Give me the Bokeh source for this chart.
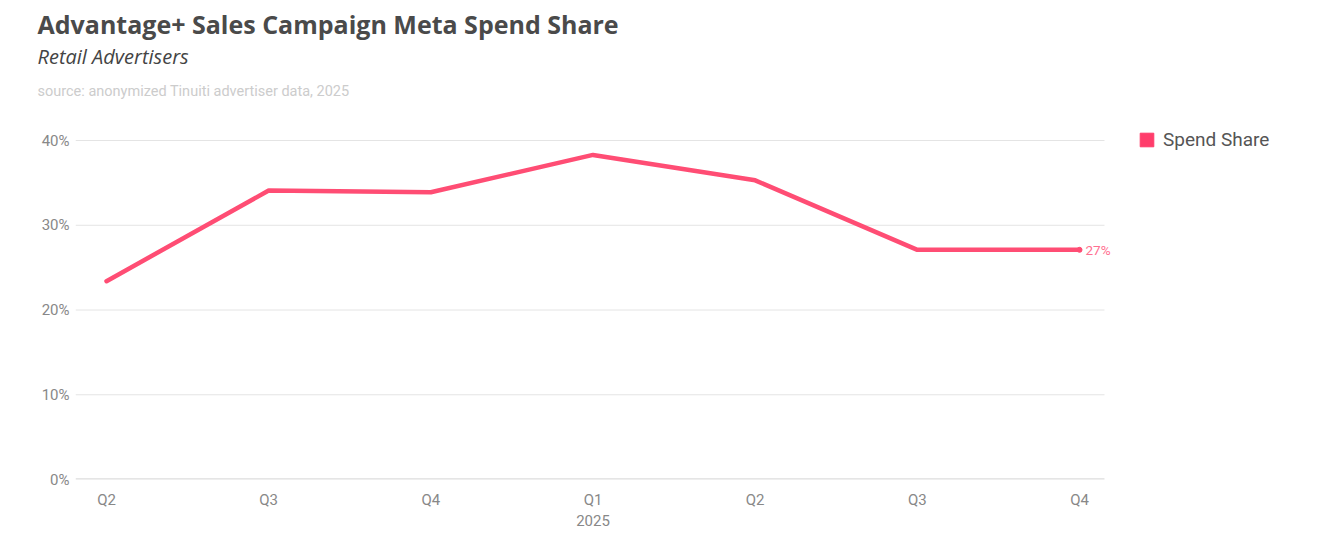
from bokeh.plotting import figure
from bokeh.models import Legend, LegendItem, FixedTicker, NumeralTickFormatter, Range1d, Title
from bokeh.core.properties import value
from bokeh.embed import file_html
from bokeh.resources import INLINE

quarters = ["Q2", "Q3", "Q4", "Q1", "Q2", "Q3", "Q4"]
year_label = "2025"
year_start_index = 3
spend_share = [23.4, 34.1, 33.9, 38.3, 35.3, 27.1, 27.1]
series_name = "Spend Share"
end_label = "27%"
y_ticks = [0, 10, 20, 30, 40]

LINE = "#ff4d74"
xs = list(range(len(quarters)))
ys = [v / 100 for v in spend_share]
yt = [t / 100 for t in y_ticks]
nan = float("nan")

X0, X1 = -0.1912, 6.154      # extent of plotting band (grid lines)
p = figure(width=1330, height=540, output_backend="svg", toolbar_location=None,
           x_range=Range1d(X0, 7.486), y_range=Range1d(0, 0.4354),
           min_border_left=75, min_border_right=10, min_border_top=110, min_border_bottom=61)
p.outline_line_color = None
p.background_fill_color = "white"
p.border_fill_color = "white"

# grid lines and baseline limited to the plotting band
p.segment(x0=[X0] * (len(yt) - 1), x1=[X1] * (len(yt) - 1), y0=yt[1:], y1=yt[1:],
          line_color="#e4e4e4", line_width=1)
p.segment(x0=[X0], x1=[X1], y0=[yt[0]], y1=[yt[0]], line_color="#dddddd", line_width=2.5)

p.line(xs, ys, line_color=LINE, line_width=4.5, line_cap="round", line_join="round")
p.scatter([xs[-1]], [ys[-1]], size=5, color=LINE)
p.text([xs[-1]], [ys[-1]], text=[end_label], x_offset=6, text_baseline="middle",
       text_font=value("Roboto"), text_font_size="13.5px", text_color="#ff6f90")

# legend swatch renderer (not drawn in the plot)
sw = p.quad(left=[nan], right=[nan], top=[nan], bottom=[nan], fill_color="#ff3d6b", line_color="#ff3d6b")
legend = Legend(items=[LegendItem(label=series_name, renderers=[sw])],
                location=(1063, 328), orientation="vertical",
                glyph_width=17, glyph_height=17, label_text_font="Roboto",
                label_text_font_size="19px", label_text_color="#555555",
                border_line_color=None, background_fill_alpha=0, padding=0, margin=0,
                label_standoff=8)
p.add_layout(legend, "center")

# axes
p.xaxis.ticker = FixedTicker(ticks=xs)
overrides = {i: q for i, q in enumerate(quarters)}
overrides[year_start_index] = quarters[year_start_index] + "\n" + year_label
p.xaxis.major_label_overrides = overrides
p.xaxis.major_label_text_font = "Roboto"
p.xaxis.major_label_text_font_size = "15px"
p.xaxis.major_label_text_color = "#888888"
p.xaxis.major_label_standoff = 11
p.xaxis.axis_line_color = None
p.xaxis.major_tick_line_color = None
p.xaxis.major_tick_out = 0
p.xaxis.minor_tick_line_color = None

p.yaxis.ticker = FixedTicker(ticks=yt)
p.yaxis.formatter = NumeralTickFormatter(format="0%")
p.yaxis.major_label_text_font = "Roboto"
p.yaxis.major_label_text_font_size = "15px"
p.yaxis.major_label_text_color = "#888888"
p.yaxis.major_label_standoff = 6
p.yaxis.axis_line_color = None
p.yaxis.major_tick_line_color = None
p.yaxis.major_tick_out = 0
p.yaxis.minor_tick_line_color = None

p.xgrid.grid_line_color = None
p.ygrid.grid_line_color = None

# titles: first added sits nearest the plot
p.add_layout(Title(text="source: anonymized Tinuiti advertiser data, 2025", align="left",
                   offset=-38, standoff=21, text_font="Roboto", text_font_style="normal",
                   text_font_size="14.5px", text_color="#cccccc"), "above")
p.add_layout(Title(text="Retail Advertisers", align="left", offset=-38, standoff=1,
                   text_font="Open Sans", text_font_style="italic",
                   text_font_size="20px", text_color="#444444"), "above")
p.add_layout(Title(text="Advantage+ Sales Campaign Meta Spend Share", align="left",
                   offset=-38, standoff=0, text_font="Open Sans", text_font_style="bold",
                   text_font_size="25px", text_color="#4a4a4a"), "above")

open("out.html", "w").write(file_html(p, INLINE))
